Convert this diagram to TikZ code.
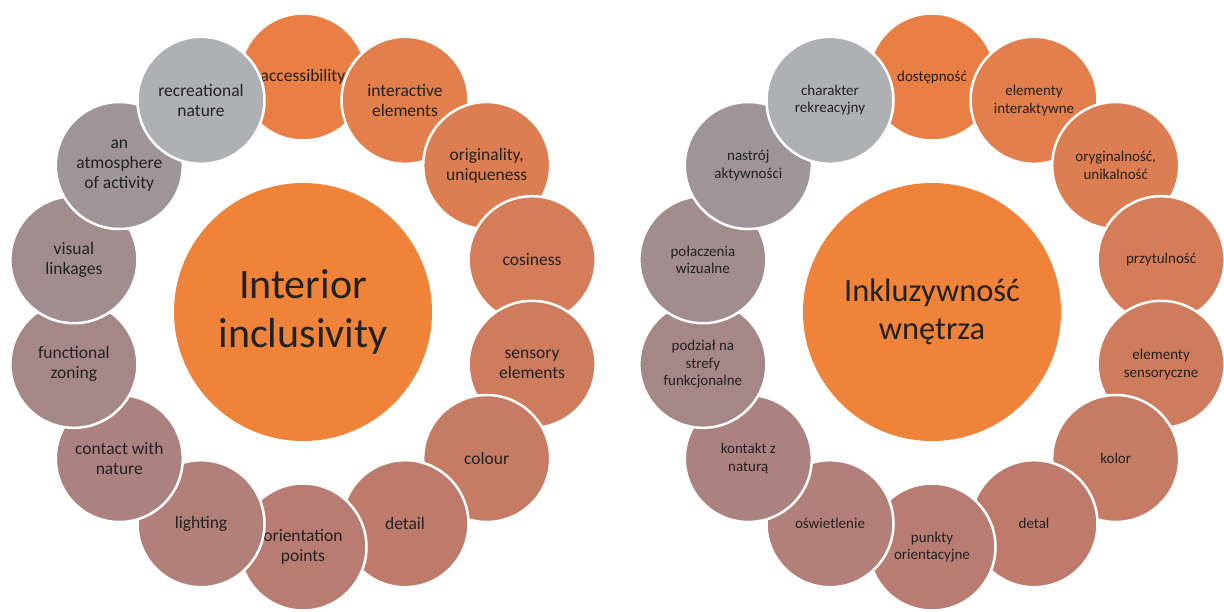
\documentclass[tikz,border=0pt]{standalone}
\usepackage{fontspec}
\setmainfont{Carlito}
\definecolor{hubc}{HTML}{F0833A}
\definecolor{c1}{HTML}{EA7F45}
\definecolor{c2}{HTML}{E27F4C}
\definecolor{c3}{HTML}{DC7E52}
\definecolor{c4}{HTML}{D57C58}
\definecolor{c5}{HTML}{CE7B5E}
\definecolor{c6}{HTML}{C67B64}
\definecolor{c7}{HTML}{BE7B6B}
\definecolor{c8}{HTML}{B87C72}
\definecolor{c9}{HTML}{B27F79}
\definecolor{c10}{HTML}{AC8281}
\definecolor{c11}{HTML}{A68788}
\definecolor{c12}{HTML}{A18D8E}
\definecolor{c13}{HTML}{9F9598}
\definecolor{c14}{HTML}{AFB0B3}
\definecolor{ink}{HTML}{222222}
\begin{document}
\begin{tikzpicture}[x=1pt, y=-1pt,
    every node/.style={circle,inner sep=0pt,text=ink,align=center},
    bub/.style={draw=white,line width=2.5pt,minimum size=127pt},
    lbub/.style={bub,font=\fontsize{17.5}{20}\selectfont},
    rbub/.style={bub,font=\fontsize{15}{17.5}\selectfont},
    hub/.style={fill=hubc,minimum size=258pt}]
          \useasboundingbox (0,0) rectangle (1224,611);
          % left: english
          \node [hub,font=\fontsize{42}{49}\selectfont] (lc) at (303,312) {Interior\\inclusivity};
          \node [lbub,fill=c1] (l1) at (303,77) {accessibility};
          \node [lbub,fill=c2] (l2) at (405,100.3) {interactive\\elements};
          \node [lbub,fill=c3] (l3) at (486.7,165.5) {originality,\\uniqueness};
          \node [lbub,fill=c4] (l4) at (532.1,259.7) {cosiness};
          \node [lbub,fill=c5] (l5) at (532.1,364.3) {sensory\\elements};
          \node [lbub,fill=c6] (l6) at (486.7,458.5) {colour};
          \node [lbub,fill=c7] (l7) at (405,523.7) {detail};
          \node [lbub,fill=c8] (l8) at (303,547) {orientation\\points};
          \node [lbub,fill=c9] (l9) at (201,523.7) {lighting};
          \node [lbub,fill=c10] (l10) at (119.3,458.5) {contact with\\nature};
          \node [lbub,fill=c11] (l11) at (73.9,364.3) {functional\\zoning};
          \node [lbub,fill=c12] (l12) at (73.9,259.7) {visual\\linkages};
          \node [lbub,fill=c13] (l13) at (119.3,165.5) {an\\atmosphere\\of activity};
          \node [lbub,fill=c14] (l14) at (201,100.3) {recreational\\nature};
          % right: polish
          \node [hub,font=\fontsize{32.5}{38}\selectfont] (rc) at (932,312) {Inkluzywność\\wnętrza};
          \node [rbub,fill=c1] (r1) at (932,77) {dostępność};
          \node [rbub,fill=c2] (r2) at (1034,100.3) {elementy\\interaktywne};
          \node [rbub,fill=c3] (r3) at (1115.7,165.5) {oryginalność,\\unikalność};
          \node [rbub,fill=c4] (r4) at (1161.1,259.7) {przytulność};
          \node [rbub,fill=c5] (r5) at (1161.1,364.3) {elementy\\sensoryczne};
          \node [rbub,fill=c6] (r6) at (1115.7,458.5) {kolor};
          \node [rbub,fill=c7] (r7) at (1034,523.7) {detal};
          \node [rbub,fill=c8] (r8) at (932,547) {punkty\\orientacyjne};
          \node [rbub,fill=c9] (r9) at (830,523.7) {oświetlenie};
          \node [rbub,fill=c10] (r10) at (748.3,458.5) {kontakt z\\naturą};
          \node [rbub,fill=c11] (r11) at (702.9,364.3) {podział na\\strefy\\funkcjonalne};
          \node [rbub,fill=c12] (r12) at (702.9,259.7) {połaczenia\\wizualne};
          \node [rbub,fill=c13] (r13) at (748.3,165.5) {nastrój\\aktywności};
          \node [rbub,fill=c14] (r14) at (830,100.3) {charakter\\rekreacyjny};
        \end{tikzpicture}
\end{document}
